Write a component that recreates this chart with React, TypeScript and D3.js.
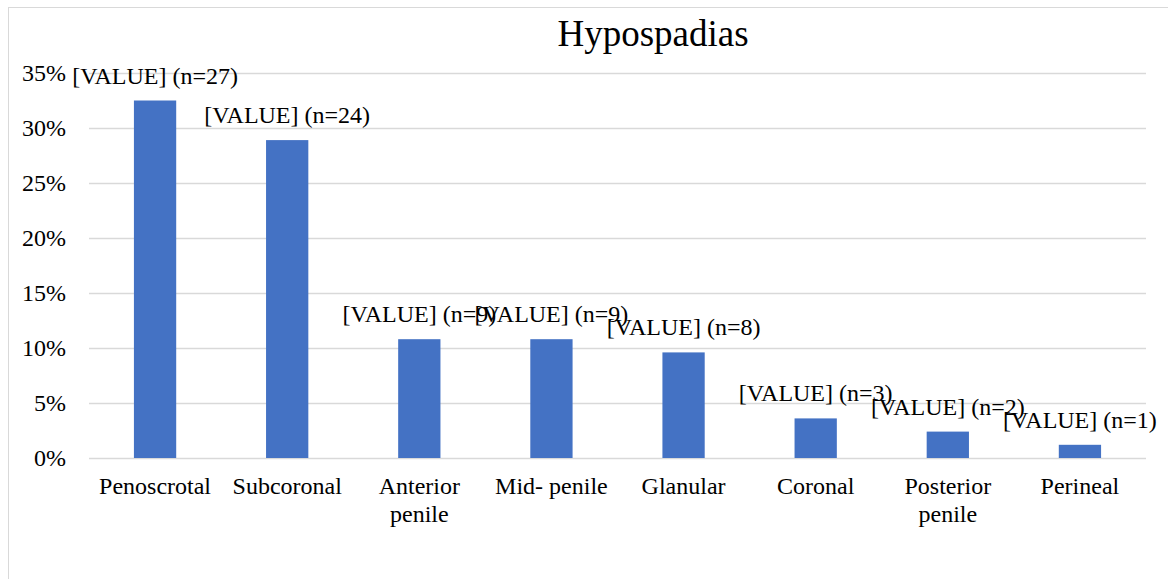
import * as d3 from "d3";

// Categorias e valores
const categorias = [
  ["Penoscrotal"],
  ["Subcoronal"],
  ["Anterior", "penile"],
  ["Mid- penile"],
  ["Glanular"],
  ["Coronal"],
  ["Posterior", "penile"],
  ["Perineal"],
];
const contagens = [27, 24, 9, 9, 8, 3, 2, 1];
const percentuais = [0.325, 0.289, 0.108, 0.108, 0.096, 0.036, 0.024, 0.012];
const ticksY = [0, 0.05, 0.1, 0.15, 0.2, 0.25, 0.3, 0.35];

const W = 1168;
const H = 579;
const FONTE = "'Liberation Serif', 'Times New Roman', serif";
const COR_BARRA = "#4472C4";
const COR_GRADE = "#d9d9d9";

const App = () => {
  const margin = { left: 89, right: 22, top: 73, bottom: 121 };
  const innerW = W - margin.left - margin.right;
  const innerH = H - margin.top - margin.bottom;

  const xScale = d3
    .scaleBand<number>()
    .domain(d3.range(categorias.length))
    .range([0, innerW])
    .paddingInner(0.68)
    .paddingOuter(0.34);

  const yScale = d3.scaleLinear().domain([0, 0.35]).range([innerH, 0]);
  const fmt = d3.format(".0%");
  const centro = (i: number) => (xScale(i) ?? 0) + xScale.bandwidth() / 2;

  return (
    <svg
      width={W}
      height={H}
      style={{ position: "absolute", left: 0, top: 0, background: "#fff", fontFamily: FONTE }}
    >
      {/* borda da área do gráfico */}
      <rect x={8.5} y={7.5} width={W + 20} height={H + 20} fill="#fff" stroke={COR_GRADE} />

      <text x={653} y={46} textAnchor="middle" fontSize={37} fill="#000">
        Hypospadias
      </text>

      <g transform={`translate(${margin.left},${margin.top})`}>
        {/* grade horizontal */}
        {ticksY.map((t) => (
          <g key={t}>
            <line
              x1={0}
              x2={innerW}
              y1={Math.round(yScale(t)) + 0.5}
              y2={Math.round(yScale(t)) + 0.5}
              stroke={COR_GRADE}
              strokeWidth={1.5}
            />
            <text x={-23} y={yScale(t) + 8} textAnchor="end" fontSize={24} fill="#000">
              {fmt(t)}
            </text>
          </g>
        ))}

        {/* barras */}
        {percentuais.map((v, i) => (
          <rect
            key={i}
            x={xScale(i)}
            y={yScale(v)}
            width={xScale.bandwidth()}
            height={innerH - yScale(v)}
            fill={COR_BARRA}
          />
        ))}

        {/* rótulos de dados */}
        {percentuais.map((v, i) => (
          <text
            key={`l${i}`}
            x={centro(i)}
            y={yScale(v) - 17}
            textAnchor="middle"
            fontSize={24}
            fill="#000"
          >
            {`[VALUE] (n=${contagens[i]})`}
          </text>
        ))}

        {/* rótulos do eixo X */}
        {categorias.map((linhas, i) => (
          <text key={`c${i}`} x={centro(i)} y={innerH + 36} textAnchor="middle" fontSize={24} fill="#000">
            {linhas.map((l, j) => (
              <tspan key={j} x={centro(i)} dy={j === 0 ? 0 : 28}>
                {l}
              </tspan>
            ))}
          </text>
        ))}
      </g>
    </svg>
  );
};

export default App;
